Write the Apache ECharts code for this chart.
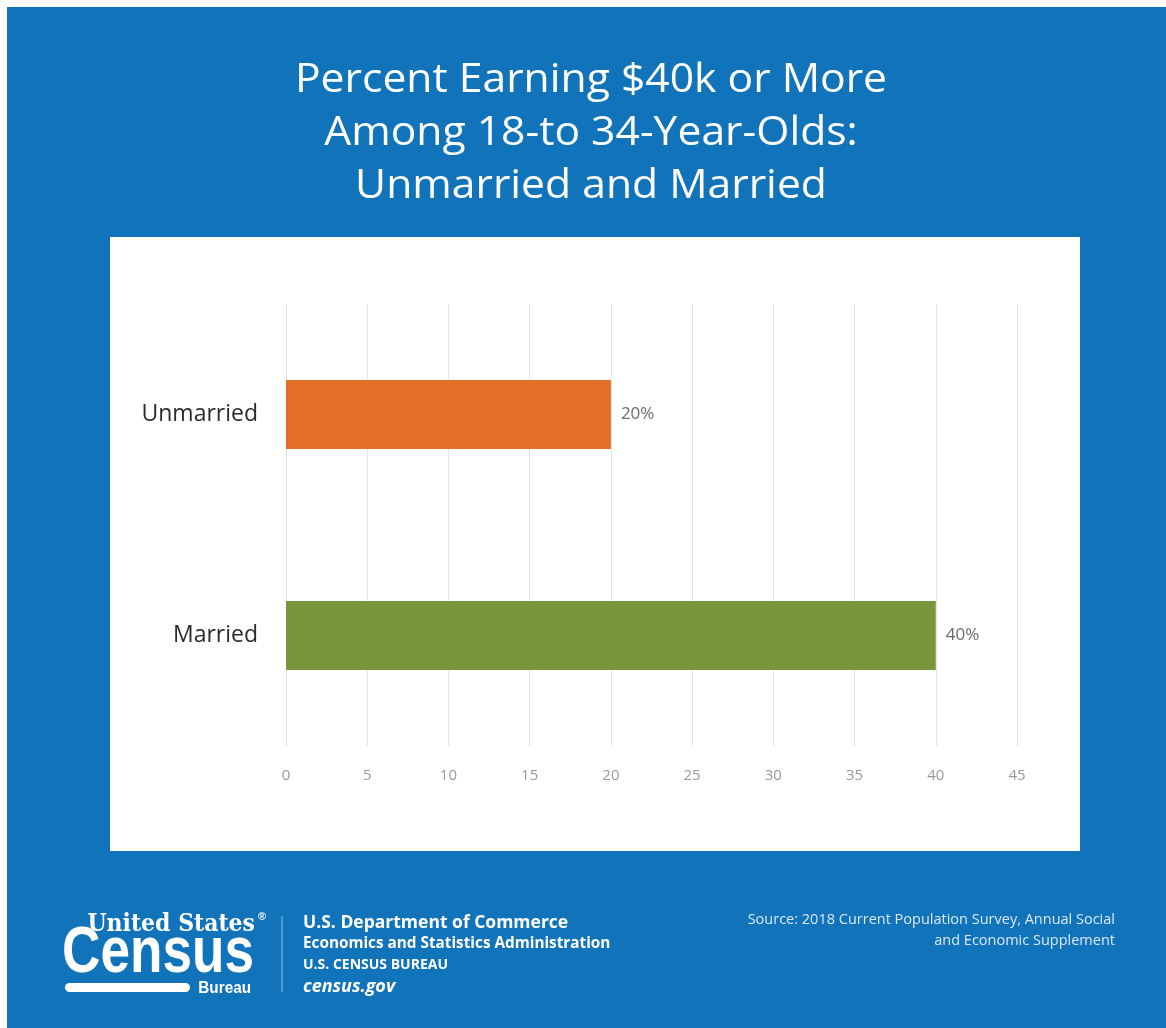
<!DOCTYPE html>
<html>
<head>
<meta charset="utf-8">
<script src="https://cdn.jsdelivr.net/npm/echarts@6/dist/echarts.min.js"></script>
<style>
html,body{margin:0;padding:0;background:#fff;}
#chart{width:1166px;height:1028px;}
</style>
</head>
<body>
<div id="chart"></div>
<script>
const categories = ['Unmarried', 'Married'];
const values = [20, 40];
const barColors = ['#E36F26', '#78963E'];
const titleLines = ['Percent Earning $40k or More', 'Among 18-to 34-Year-Olds:', 'Unmarried and Married'];
const sourceLines = ['Source: 2018 Current Population Survey, Annual Social', 'and Economic Supplement'];

const chart = echarts.init(document.getElementById('chart'));
const BLUE = '#1174BB';
const graphics = [
  {type:'rect', shape:{x:7,y:7,width:1159,height:1021}, style:{fill:BLUE}, z:-10},
  {type:'rect', shape:{x:110,y:237,width:970,height:614}, style:{fill:'#ffffff'}, z:-9}
];
titleLines.forEach((t,i)=>{
  graphics.push({type:'text', x:591, y:80+i*53, scaleX:1.04, style:{text:t, fill:'#ffffff', font:'41px "Open Sans"', textAlign:'center', textVerticalAlign:'middle'}});
});
sourceLines.forEach((t,i)=>{
  graphics.push({type:'text', x:1115, y:920+i*21, style:{text:t, fill:'#dbe8f4', font:'14.5px "Open Sans"', textAlign:'right', textVerticalAlign:'middle'}});
});
graphics.push(
  {type:'text', x:255, y:924, scaleX:0.88, style:{text:'United States', fill:'#fff', font:'bold 25px "DejaVu Serif"', textAlign:'right', textVerticalAlign:'middle'}},
  {type:'text', x:258, y:917, style:{text:'®', fill:'#fff', font:'bold 11px "Liberation Sans"', textAlign:'left', textVerticalAlign:'middle'}},
  {type:'text', x:158, y:954, scaleX:0.83, style:{text:'Census', fill:'#fff', font:'bold 64px "Liberation Sans"', textAlign:'center', textVerticalAlign:'middle'}},
  {type:'rect', shape:{x:65,y:983,width:125,height:9,r:4.5}, style:{fill:'#fff'}},
  {type:'text', x:251, y:988, scaleX:0.9, style:{text:'Bureau', fill:'#fff', font:'bold 17px "Liberation Sans"', textAlign:'right', textVerticalAlign:'middle'}},
  {type:'line', shape:{x1:282,y1:916,x2:282,y2:992}, style:{stroke:'#8fbde0', lineWidth:1}},
  {type:'text', x:303, y:923, style:{text:'U.S. Department of Commerce', fill:'#fff', font:'bold 17.5px "Open Sans"', textVerticalAlign:'middle'}},
  {type:'text', x:303, y:944, style:{text:'Economics and Statistics Administration', fill:'#fff', font:'bold 15.3px "Open Sans"', textVerticalAlign:'middle'}},
  {type:'text', x:303, y:965, style:{text:'U.S. CENSUS BUREAU', fill:'#fff', font:'bold 14px "Open Sans"', textVerticalAlign:'middle'}},
  {type:'text', x:303, y:987, style:{text:'census.gov', fill:'#fff', font:'italic bold 18px "Open Sans"', textVerticalAlign:'middle'}}
);

chart.setOption({
  animation:false,
  grid:{left:286, right:149, top:304, bottom:282, containLabel:false},
  graphic:graphics,
  xAxis:{
    type:'value', min:0, max:45, interval:5,
    axisLine:{show:false}, axisTick:{show:false},
    splitLine:{show:true, lineStyle:{color:'#e2e2e2', width:1}},
    axisLabel:{color:'#999', fontSize:15, fontFamily:'Open Sans', margin:22}
  },
  yAxis:{
    type:'category', data:categories, inverse:true,
    axisLine:{show:false}, axisTick:{show:false},
    axisLabel:{color:'#2b2b2b', fontSize:23, fontFamily:'Open Sans', margin:28}
  },
  series:[{
    type:'bar',
    data:values.map((v,i)=>({value:v, itemStyle:{color:barColors[i]}})),
    barWidth:'31.2%',
    label:{show:true, position:'right', distance:10, formatter:'{c}%', color:'#6b6b6b', fontSize:17, fontFamily:'Open Sans'}
  }]
});
</script>
</body>
</html>
